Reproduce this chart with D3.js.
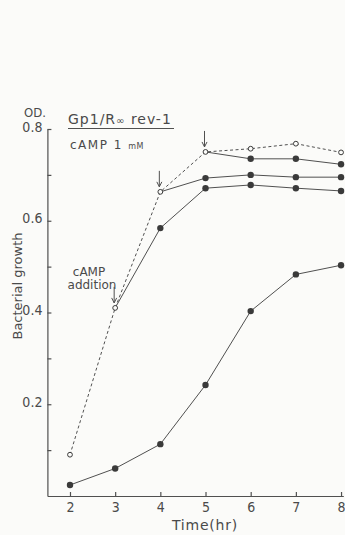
<!DOCTYPE html>
<html>
<head>
<meta charset="utf-8">
<script src="https://cdn.jsdelivr.net/npm/d3@7"></script>
<style>
    body { margin: 0; background: #fbfbf9; }
    svg text { font-family: "DejaVu Sans", sans-serif; fill: #4a4a4a; }
    svg .narrow text, svg text.narrow { font-family: "Liberation Sans Narrow", "DejaVu Sans Condensed", sans-serif; }
</style>
</head>
<body>
<div id="chart"></div>
<script>
// Hours of sampling
const hours = [2, 3, 4, 5, 6, 7, 8];
// No cAMP
const controlOD = [0.024, 0.06, 0.113, 0.242, 0.403, 0.483, 0.503];
// Open circles, dashed (before addition)
const openOD = [0.09, 0.41, 0.663, 0.75, 0.757, 0.768, 0.749];
// cAMP added at 3, 4 and 5 hr
const addHours = [3, 4, 5];
const added3OD = [0.41, 0.584, 0.671, 0.678, 0.671, 0.665];
const added4OD = [0.663, 0.693, 0.70, 0.695, 0.695];
const added5OD = [0.75, 0.735, 0.735, 0.723];
const yTicks = [0.1, 0.2, 0.3, 0.4, 0.5, 0.6, 0.7, 0.8];
const yLabels = [0.2, 0.4, 0.6, 0.8];

const width = 345, height = 535;
const lineColor = "#505050";

const svg = d3.select("#chart")
    .append("svg")
    .attr("width", width)
    .attr("height", height);

const xScale = d3.scaleLinear()
    .domain([1.5, 8.05])
    .range([47.4, 343.3]);

const yScale = d3.scaleLinear()
    .domain([0, 0.8])
    .range([496, 129]);

// Axes
svg.append("g")
    .attr("class", "narrow")
    .attr("transform", "translate(0," + yScale(0) + ")")
    .call(d3.axisBottom(xScale)
        .tickValues(hours)
        .tickSize(-4)
        .tickPadding(6)
        .tickSizeOuter(0)
        .tickFormat(d3.format("d")))
    .call(g => g.selectAll("text").style("font-size", "14px"));

svg.append("g")
    .attr("class", "narrow")
    .attr("transform", "translate(" + xScale(1.5) + ",0)")
    .call(d3.axisLeft(yScale)
        .tickValues(yTicks)
        .tickSize(-4)
        .tickPadding(5)
        .tickSizeOuter(0)
        .tickFormat(d => yLabels.some(v => Math.abs(v - d) < 1e-6) ? d3.format(".1f")(d) : ""))
    .call(g => g.selectAll("text").style("font-size", "14px").attr("dy", "0.15em"));

svg.selectAll(".domain, .tick line")
    .attr("stroke", lineColor)
    .attr("stroke-width", 1.2);

// Axis labels
svg.append("text")
    .attr("class", "narrow")
    .attr("x", 35)
    .attr("y", 117)
    .attr("text-anchor", "middle")
    .style("font-size", "13px")
    .text("OD.");

svg.append("text")
    .attr("transform", "translate(22,286) rotate(-90)")
    .attr("text-anchor", "middle")
    .style("font-size", "13px")
    .text("Bacterial growth");

svg.append("text")
    .attr("x", 205)
    .attr("y", 530)
    .attr("text-anchor", "middle")
    .style("font-size", "14px")
    .style("letter-spacing", "0.8px")
    .text("Time(hr)");

// Strain and condition
const title = svg.append("text")
    .attr("x", 68)
    .attr("y", 124)
    .style("font-size", "14px")
    .style("letter-spacing", "1px");
title.append("tspan").text("Gp1/R");
title.append("tspan").style("font-size", "10px").text("∞");
title.append("tspan").text(" rev-1");
svg.append("line")
    .attr("x1", 68).attr("x2", 174)
    .attr("y1", 128.5).attr("y2", 128.5)
    .attr("stroke", lineColor)
    .attr("stroke-width", 1);

const cond = svg.append("text")
    .attr("x", 70)
    .attr("y", 149)
    .style("font-size", "12px")
    .style("letter-spacing", "1.5px");
cond.append("tspan").text("cAMP  1 ");
cond.append("tspan").style("font-size", "8px").style("letter-spacing", "0.5px").text("mM");

// Lines
const line = d3.line()
    .x(d => xScale(d.h))
    .y(d => yScale(d.v));

const toPoints = (hs, vs) => vs.map((v, i) => ({h: hs[i], v: v}));

const controlPts = toPoints(hours, controlOD);
const openPts = toPoints(hours, openOD);
const addedSeries = [
    toPoints(hours.slice(1), added3OD),
    toPoints(hours.slice(2), added4OD),
    toPoints(hours.slice(3), added5OD)
];

svg.append("path")
    .datum(openPts)
    .attr("d", line)
    .attr("fill", "none")
    .attr("stroke", lineColor)
    .attr("stroke-width", 1)
    .attr("stroke-dasharray", "3,2.5");

[controlPts].concat(addedSeries).forEach(pts => {
    svg.append("path")
        .datum(pts)
        .attr("d", line)
        .attr("fill", "none")
        .attr("stroke", lineColor)
        .attr("stroke-width", 1);
});

// Filled markers (first point of each cAMP series is the open circle)
const filledPts = controlPts.concat(...addedSeries.map(s => s.slice(1)));
svg.selectAll(".filled")
    .data(filledPts)
    .enter()
    .append("circle")
    .attr("class", "filled")
    .attr("cx", d => xScale(d.h))
    .attr("cy", d => yScale(d.v))
    .attr("r", 3.2)
    .attr("fill", "#3a3a3a");

svg.selectAll(".open")
    .data(openPts)
    .enter()
    .append("circle")
    .attr("class", "open")
    .attr("cx", d => xScale(d.h))
    .attr("cy", d => yScale(d.v))
    .attr("r", 2.4)
    .attr("fill", "#fbfbf9")
    .attr("stroke", "#3a3a3a")
    .attr("stroke-width", 1);

// Addition arrows
const arrows = svg.selectAll(".arrow")
    .data(openPts.filter(d => addHours.includes(d.h)))
    .enter()
    .append("g")
    .attr("class", "arrow")
    .attr("transform", d => "translate(" + (xScale(d.h) - 1) + "," + (yScale(d.v) - 5) + ")");

arrows.append("line")
    .attr("x1", 0).attr("x2", 0)
    .attr("y1", -16).attr("y2", 0)
    .attr("stroke", lineColor)
    .attr("stroke-width", 1);

arrows.append("path")
    .attr("d", "M-2.5,-5L0,0L2.5,-5")
    .attr("fill", "none")
    .attr("stroke", lineColor)
    .attr("stroke-width", 1);

svg.append("text")
    .attr("x", 89).attr("y", 276)
    .attr("text-anchor", "middle")
    .style("font-size", "12px")
    .text("cAMP");
svg.append("text")
    .attr("x", 92).attr("y", 289)
    .attr("text-anchor", "middle")
    .style("font-size", "12px")
    .text("addition");
</script>
</body>
</html>
